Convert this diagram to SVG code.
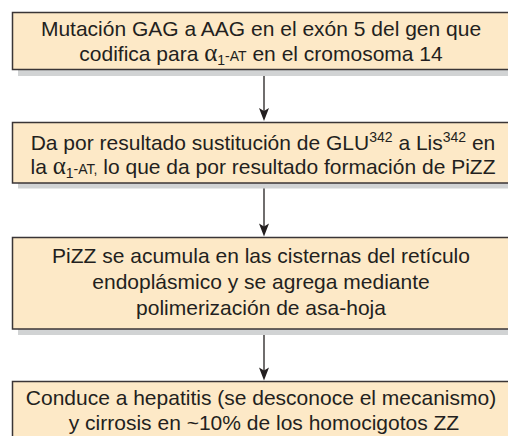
<svg xmlns="http://www.w3.org/2000/svg" width="508" height="436" viewBox="0 0 508 436">
<defs>
<style>
.shadow{fill:#d1d3d4}
.box{fill:#fde9c7;stroke:#3a3536;stroke-width:1.5}
.t{font-family:"Liberation Sans",Arial,Helvetica,sans-serif;font-size:21px;fill:#231f20}
.m{text-anchor:middle}
.sm{font-size:14px}
.al{font-family:"Liberation Serif","Times New Roman",serif;font-size:25px}
.edge{stroke:#231f20;stroke-width:1.3;fill:none}
.head{fill:#231f20}
</style>
</defs>
<g id="connectors">
<line class="edge" x1="264" y1="69.5" x2="264" y2="118"/>
<line class="edge" x1="264" y1="183" x2="264" y2="233.5"/>
<line class="edge" x1="264" y1="329" x2="264" y2="377.5"/>
<path class="head" d="M259,108 L264,111 L269,108 L264,121 Z"/>
<path class="head" d="M259,223.5 L264,226.5 L269,223.5 L264,236.5 Z"/>
<path class="head" d="M259,367.5 L264,370.5 L269,367.5 L264,380.5 Z"/>
</g>
<g id="node1">
<rect class="shadow" x="18" y="18" width="500" height="58"/>
<rect class="box" x="12.5" y="12.5" width="510" height="57"/>
<text class="t m" x="261" y="36">Mutación GAG a AAG en el exón 5 del gen que</text>
<text class="t m" x="261" y="61">codifica para <tspan class="al">α</tspan><tspan class="sm" dy="4">1</tspan><tspan class="sm" dy="-4">-AT</tspan> en el cromosoma 14</text>
</g>
<g id="node2">
<rect class="shadow" x="18" y="128" width="500" height="60.5"/>
<rect class="box" x="12.5" y="122.5" width="510" height="60.5"/>
<text class="t m" x="263" y="149.5">Da por resultado sustitución de GLU<tspan class="sm" dy="-8">342</tspan><tspan dy="8"> a Lis</tspan><tspan class="sm" dy="-8">342</tspan><tspan dy="8"> en</tspan></text>
<text class="t m" x="263" y="173.5">la <tspan class="al">α</tspan><tspan class="sm" dy="4">1</tspan><tspan class="sm" dy="-4">-AT,</tspan> lo que da por resultado formación de PiZZ</text>
</g>
<g id="node3">
<rect class="shadow" x="18" y="243" width="500" height="92"/>
<rect class="box" x="12.5" y="237.5" width="510" height="91.5"/>
<text class="t m" x="261" y="263">PiZZ se acumula en las cisternas del retículo</text>
<text class="t m" x="261" y="289">endoplásmico y se agrega mediante</text>
<text class="t m" x="261" y="315">polimerización de asa-hoja</text>
</g>
<g id="node4">
<rect class="box" x="12.5" y="381.5" width="510" height="70"/>
<text class="t m" x="261" y="405">Conduce a hepatitis (se desconoce el mecanismo)</text>
<text class="t m" x="264" y="430">y cirrosis en ~10% de los homocigotos ZZ</text>
</g>
</svg>
